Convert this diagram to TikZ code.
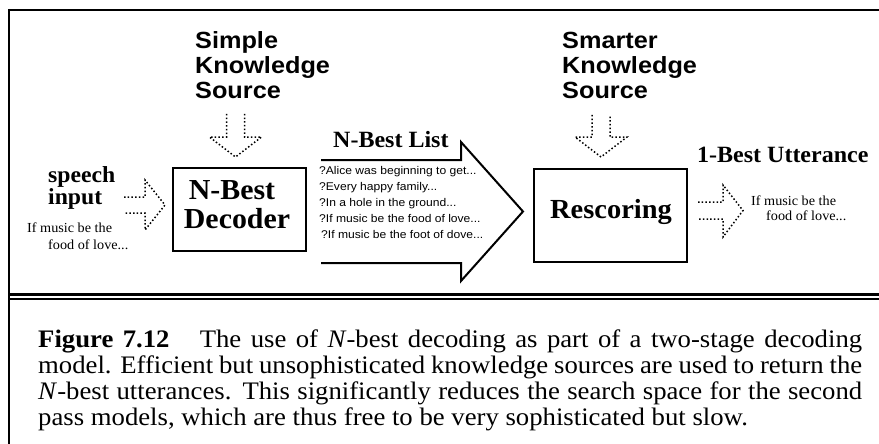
\documentclass[tikz,border=0pt]{standalone}
\usepackage{fontspec}
\setmainfont{Liberation Serif}[FakeStretch=1.03]
\setsansfont{Liberation Sans}[FakeStretch=1.08]
\newfontfamily\capfont{Liberation Serif}[FakeStretch=1.06]
\newcommand{\fsz}[2]{\fontsize{#1}{#2}\selectfont}
\tikzset{
  frameline/.style={line width=2pt},
  boxstyle/.style={draw, line width=2pt, inner sep=0pt},
  dotarrow/.style={line width=1.5pt, dash pattern=on 1.5pt off 2.2pt, line join=miter},
  bigarrow/.style={line width=2pt, line join=miter},
  lbl/.style={inner sep=0pt, anchor=base west},
  clbl/.style={inner sep=0pt, anchor=base},
  ksfont/.style={lbl, font=\sffamily\bfseries\fsz{23.4}{25}},
  headfont/.style={lbl, font=\bfseries\fsz{23.3}{24}},
  boxfont/.style={clbl, font=\bfseries\fsz{29}{28}},
  smallserif/.style={lbl, font=\fsz{13.8}{15}},
  listfont/.style={lbl, font=\sffamily\fsz{11.2}{16}},
}
\begin{document}
\begin{tikzpicture}[x=1pt,y=-1pt]
\useasboundingbox (0,0) rectangle (879,444);
\fill[white] (0,0) rectangle (879,444);
% frame
\draw[frameline] (8,10) -- (879,10);
\draw[line width=2.5pt] (9,9) -- (9,444);
\draw[line width=3pt] (9,294.5) -- (879,294.5);
\draw[line width=2pt] (9,298.5) -- (879,298.5);

% knowledge sources
\node[ksfont] (sks1) at (195,49) {Simple};
\node[ksfont] (sks2) at (195,74) {Knowledge};
\node[ksfont] (sks3) at (195,99) {Source};
\node[ksfont] (mks1) at (562,49) {Smarter};
\node[ksfont] (mks2) at (562,74) {Knowledge};
\node[ksfont] (mks3) at (562,99) {Source};

% dotted down arrows
\draw[dotarrow] (226.5,114) -- (226.5,137) -- (209.5,137) -- (235.5,157) -- (261.5,137) -- (244.5,137) -- (244.5,114);
\draw[dotarrow] (592,115) -- (592,137) -- (575,137) -- (601,157) -- (627,137) -- (610,137) -- (610,115);

% boxes
\node[boxstyle, minimum width=133pt, minimum height=83pt] (dec) at (239.5,209.5) {};
\node[boxfont] (dec1) at (232,199.5) {N-Best};
\node[boxfont] (dec2) at (237,228) {Decoder};
\node[boxstyle, minimum width=153pt, minimum height=93pt] (res) at (610.5,215.5) {};
\node[clbl, font=\bfseries\fsz{27.6}{28}] (res1) at (611,218) {Rescoring};

% speech input
\node[lbl, font=\bfseries\fsz{23}{23}] (sp1) at (48,182) {speech};
\node[lbl, font=\bfseries\fsz{23}{23}] (sp2) at (48,204) {input};
\node[smallserif] (in1) at (27,232) {If music be the};
\node[smallserif] (in2) at (48,249) {food of love...};
\draw[dotarrow] (124,197) -- (145,197) -- (145,180) -- (165,205) -- (145,230) -- (145,213) -- (124,213);

% N-best list arrow
\draw[bigarrow] (321,160) -- (461,160) -- (461,142) -- (523,211.5) -- (461,281) -- (461,263) -- (321,263);
\node[headfont] (nbl) at (333,147) {N-Best List};
\node[listfont] (l1) at (319,174) {?Alice was beginning to get...};
\node[listfont] (l2) at (319,190) {?Every happy family...};
\node[listfont] (l3) at (319,206) {?In a hole in the ground...};
\node[listfont] (l4) at (319,222) {?If music be the food of love...};
\node[listfont] (l5) at (321,238) {?If music be the foot of dove...};

% output
\node[headfont] (obest) at (697,162) {1-Best Utterance};
\draw[dotarrow] (698,202) -- (723,202) -- (723,185) -- (743,210.5) -- (723,237) -- (723,219) -- (698,219);
\node[smallserif] (out1) at (751,205) {If music be the};
\node[smallserif] (out2) at (766,220) {food of love...};

% caption
\node[lbl] (cap) at (38,347) {\parbox[t]{824pt}{\capfont\fsz{25.2}{26}\selectfont
\textbf{Figure 7.12}\hspace{1.2em}The use of \textit{N}-best decoding as part of a two-stage decoding\linebreak
model. Efficient but unsophisticated knowledge sources are used to return the\linebreak
\textit{N}-best utterances. This significantly reduces the search space for the second\linebreak
pass models, which are thus free to be very sophisticated but slow.}};
\end{tikzpicture}
\end{document}
